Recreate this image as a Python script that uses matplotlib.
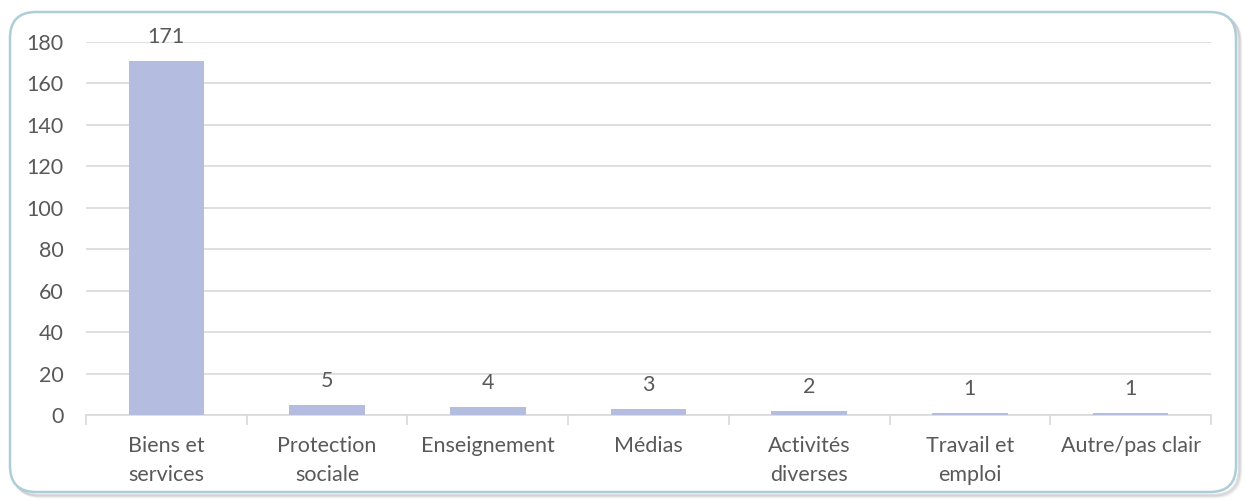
import matplotlib
matplotlib.use("Agg")
import matplotlib.pyplot as plt
from matplotlib.patches import FancyBboxPatch
import numpy as np

categories = ["Biens et\nservices", "Protection\nsociale", "Enseignement", "Médias",
              "Activités\ndiverses", "Travail et\nemploi", "Autre/pas clair"]
values = [171, 5, 4, 3, 2, 1, 1]
y_ticks = [0, 20, 40, 60, 80, 100, 120, 140, 160, 180]

TEXT = "#595959"
GRID = "#D9D9D9"
BAR = "#B4BCE0"
FS = 15.5

plt.rcParams["font.family"] = ["Lato", "DejaVu Sans"]

fig = plt.figure(figsize=(12.46, 5.01), dpi=100)
fig.patch.set_facecolor("white")

# Rounded frame with a soft shadow, in inch coordinates so corners stay circular
for off, alpha in [(0.05, 0.08), (0.04, 0.13), (0.03, 0.2)]:
    sh = FancyBboxPatch((0.10 + off, 0.09 - off), 12.26, 4.80,
                        boxstyle="round,pad=0,rounding_size=0.26",
                        transform=fig.dpi_scale_trans, facecolor="none",
                        edgecolor="#7F7F7F", linewidth=2.0, alpha=alpha, zorder=0)
    fig.add_artist(sh)
frame = FancyBboxPatch((0.10, 0.09), 12.26, 4.80,
                       boxstyle="round,pad=0,rounding_size=0.26",
                       transform=fig.dpi_scale_trans, facecolor="white",
                       edgecolor="#ADCDD8", linewidth=1.8, zorder=1)
fig.add_artist(frame)

ax = fig.add_axes([86 / 1246, 1 - 415 / 501, (1211 - 86) / 1246, (415 - 42) / 501])
ax.set_zorder(2)
ax.patch.set_visible(False)

x = np.arange(len(categories))
ax.bar(x, values, width=0.47, color=BAR, zorder=3)
for xi, v in zip(x, values):
    ax.annotate(str(v), (xi, v), xytext=(0, 13), textcoords="offset points",
                ha="center", va="baseline", fontsize=FS, color=TEXT)

ax.set_xlim(-0.5, len(categories) - 0.5)
ax.set_ylim(0, 180)
ax.set_yticks(y_ticks)
ax.set_yticklabels([str(t) for t in y_ticks], fontsize=FS, color=TEXT)
ax.yaxis.grid(True, color=GRID, linewidth=1.2, zorder=0)
ax.set_axisbelow(True)
ax.tick_params(axis="y", length=0, pad=16)

# Category labels centred under bars, ticks on category boundaries
ax.set_xticks(x)
ax.set_xticklabels(categories, fontsize=FS, color=TEXT, linespacing=1.55)
ax.tick_params(axis="x", which="major", length=0, pad=15)
ax.set_xticks(np.arange(-0.5, len(categories)), minor=True)
ax.tick_params(axis="x", which="minor", length=7, width=1.2, color=GRID)

for side in ["top", "right", "left"]:
    ax.spines[side].set_visible(False)
ax.spines["bottom"].set_color(GRID)
ax.spines["bottom"].set_linewidth(1.2)

fig.savefig("out.png", dpi=100, facecolor="white")
